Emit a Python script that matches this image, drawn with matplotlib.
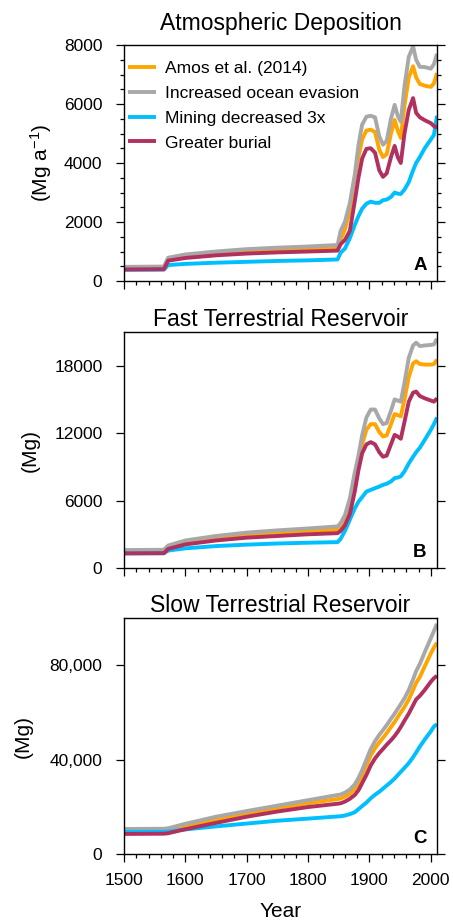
import matplotlib
matplotlib.use('Agg')
import matplotlib.pyplot as plt
from matplotlib.ticker import MultipleLocator, FuncFormatter

plt.rcParams['font.family'] = ['Liberation Sans', 'DejaVu Sans']
plt.rcParams['mathtext.default'] = 'regular'

years = [1500, 1565, 1572, 1600, 1650, 1700, 1750, 1800, 1848, 1853, 1860, 1868,
         1876, 1882, 1888, 1895, 1902, 1909, 1916, 1922, 1928, 1935, 1941, 1946,
         1951, 1957, 1964, 1971, 1976, 1982, 1990, 2000, 2005, 2010]

labels = ['Amos et al. (2014)', 'Increased ocean evasion', 'Mining decreased 3x', 'Greater burial']
colors = ['#FFA500', '#A8A8A8', '#00BFFF', '#B03060']

# atmospheric deposition (Mg/a)
dep_amos = [450, 460, 740, 850, 950, 1010, 1050, 1080, 1110, 1400, 1750, 2400,
            3500, 4200, 4800, 5100, 5130, 5050, 4450, 4200, 4300, 5000, 5460, 5100,
            4850, 5950, 6900, 7280, 6900, 6680, 6620, 6580, 6700, 7050]
dep_ocean = [480, 490, 790, 900, 1000, 1080, 1130, 1170, 1220, 1700, 2010, 2640,
             3600, 4600, 5300, 5570, 5600, 5550, 4900, 4620, 4750, 5500, 5970, 5600,
             5400, 6600, 7600, 7950, 7500, 7260, 7250, 7200, 7350, 7700]
dep_mining = [380, 385, 540, 580, 620, 650, 680, 700, 730, 960, 1100, 1450,
              1900, 2200, 2450, 2620, 2690, 2650, 2650, 2740, 2760, 2850, 3000, 2960,
              2950, 3100, 3350, 3750, 4000, 4200, 4500, 4800, 4950, 5600]
dep_burial = [390, 400, 690, 780, 870, 930, 970, 1000, 1030, 1250, 1390, 1700,
              2700, 3500, 4150, 4480, 4500, 4350, 3750, 3530, 3650, 4200, 4580, 4200,
              4000, 5000, 5800, 6200, 5700, 5550, 5450, 5350, 5250, 5200]

# fast terrestrial reservoir (Mg)
fast_amos = [1450, 1470, 1850, 2300, 2700, 2980, 3150, 3300, 3400, 3700, 4300, 5700,
             7900, 9400, 11000, 12300, 12800, 12800, 12100, 11700, 11800, 12800, 13700, 13600,
             13500, 15000, 17000, 18200, 18400, 18150, 18100, 18100, 18150, 18550]
fast_ocean = [1600, 1620, 2000, 2450, 2850, 3150, 3350, 3520, 3700, 4000, 4700, 6200,
              8500, 10000, 11800, 13400, 14100, 14100, 13300, 12800, 12900, 14000, 15000, 14900,
              14800, 16500, 18700, 19800, 20050, 19750, 19800, 19850, 19900, 20400]
fast_mining = [1300, 1310, 1550, 1750, 1950, 2080, 2180, 2250, 2300, 2600, 3300, 4300,
               5300, 5900, 6300, 6800, 6950, 7100, 7250, 7400, 7500, 7700, 8000, 8050,
               8150, 8600, 9300, 9900, 10300, 10700, 11400, 12300, 12800, 13400]
fast_burial = [1300, 1320, 1700, 2100, 2450, 2700, 2850, 3000, 3100, 3300, 3800, 4800,
               6800, 8700, 10200, 11000, 11200, 11000, 10300, 9900, 10000, 11000, 11850, 11700,
               11500, 13000, 14800, 15600, 15700, 15300, 15100, 14900, 14800, 15100]

# slow terrestrial reservoir (Mg)
slow_amos = [9900, 9950, 10100, 11800, 14600, 17000, 19400, 21500, 23300, 23600, 24300, 25500,
             27500, 30000, 33200, 37500, 41800, 44800, 47300, 49200, 51200, 53800, 56000, 58000,
             60000, 62300, 65500, 69500, 72500, 75000, 79500, 85000, 87500, 89500]
slow_ocean = [10600, 10700, 10900, 12800, 15800, 18200, 20500, 22800, 25000, 25200, 26000, 27300,
              29500, 32200, 35500, 40000, 44500, 47800, 50500, 52500, 54600, 57300, 59500, 61500,
              63500, 66000, 69500, 74000, 77500, 80500, 85500, 91500, 94500, 97500]
slow_mining = [9400, 9400, 9500, 10400, 11700, 12900, 14100, 15000, 15900, 16000, 16300, 16900,
               17700, 19000, 20300, 21800, 23600, 25100, 26400, 27700, 29000, 30500, 32000, 33400,
               34800, 36500, 38500, 41000, 43000, 45500, 48500, 52000, 54000, 55000]
slow_burial = [8500, 8600, 8800, 10500, 13200, 15800, 18000, 19900, 21300, 21500, 22200, 23400,
               25000, 27000, 30000, 33500, 37500, 40500, 42800, 44500, 46300, 48200, 50000, 51800,
               53800, 56500, 59500, 63000, 65500, 67000, 69500, 73000, 74500, 75500]

fig = plt.figure(figsize=(4.53, 9.23), dpi=100)
L, W, H = 124/453, 313/453, 236/923
axA = fig.add_axes([L, 1-281/923, W, H])
axB = fig.add_axes([L, 1-568/923, W, H])
axC = fig.add_axes([L, 1-854/923, W, H])

panels = [
    (axA, [dep_amos, dep_ocean, dep_mining, dep_burial], 'Atmospheric Deposition', 8000, 2000, 500, '(Mg a$^{-1}$)', -0.265, 'A', 11),
    (axB, [fast_amos, fast_ocean, fast_mining, fast_burial], 'Fast Terrestrial Reservoir', 21000, 6000, None, '(Mg)', -0.30, 'B', 4),
    (axC, [slow_amos, slow_ocean, slow_mining, slow_burial], 'Slow Terrestrial Reservoir', 100000, 40000, None, '(Mg)', -0.323, 'C', 4),
]

for ax, series, title, ymax, ymaj, ymin, ylab, lx, letter, tpad in panels:
    for s, c, lab in zip(series, colors, labels):
        ax.plot(years, s, color=c, lw=2.8, label=lab, solid_capstyle='butt')
    ax.set_xlim(1500, 2010)
    ax.set_ylim(0, ymax)
    ax.xaxis.set_major_locator(MultipleLocator(100))
    ax.xaxis.set_minor_locator(MultipleLocator(20))
    ax.yaxis.set_major_locator(MultipleLocator(ymaj))
    if ymin:
        ax.yaxis.set_minor_locator(MultipleLocator(ymin))
    ax.tick_params(which='both', direction='out', right=True, top=False, width=0.9, labelsize=12.5)
    ax.tick_params(which='major', length=5.5)
    ax.tick_params(which='minor', length=2.7)
    ax.tick_params(axis='y', pad=10)
    ax.tick_params(axis='x', pad=8)
    for sp in ax.spines.values():
        sp.set_linewidth(1.0)
    ax.set_title(title, fontsize=16.5, pad=tpad)
    ax.set_ylabel(ylab, fontsize=15, va='center')
    ax.yaxis.set_label_coords(lx, 0.5)
    ax.text(0.945, 0.03, letter, transform=ax.transAxes, fontsize=13.5, fontweight='bold',
            ha='center', va='bottom')
    if ax is not axC:
        ax.tick_params(axis='x', labelbottom=False)

axC.yaxis.set_major_formatter(FuncFormatter(lambda v, p: '{:,.0f}'.format(v)))
axC.set_xlabel('Year', fontsize=15, labelpad=10)

axA.legend(loc='upper left', bbox_to_anchor=(-0.02, 0.975), frameon=False, fontsize=12.5,
           handlelength=1.6, handletextpad=0.5, labelspacing=0.55, borderaxespad=0.2)

fig.savefig('out.png', dpi=100)
